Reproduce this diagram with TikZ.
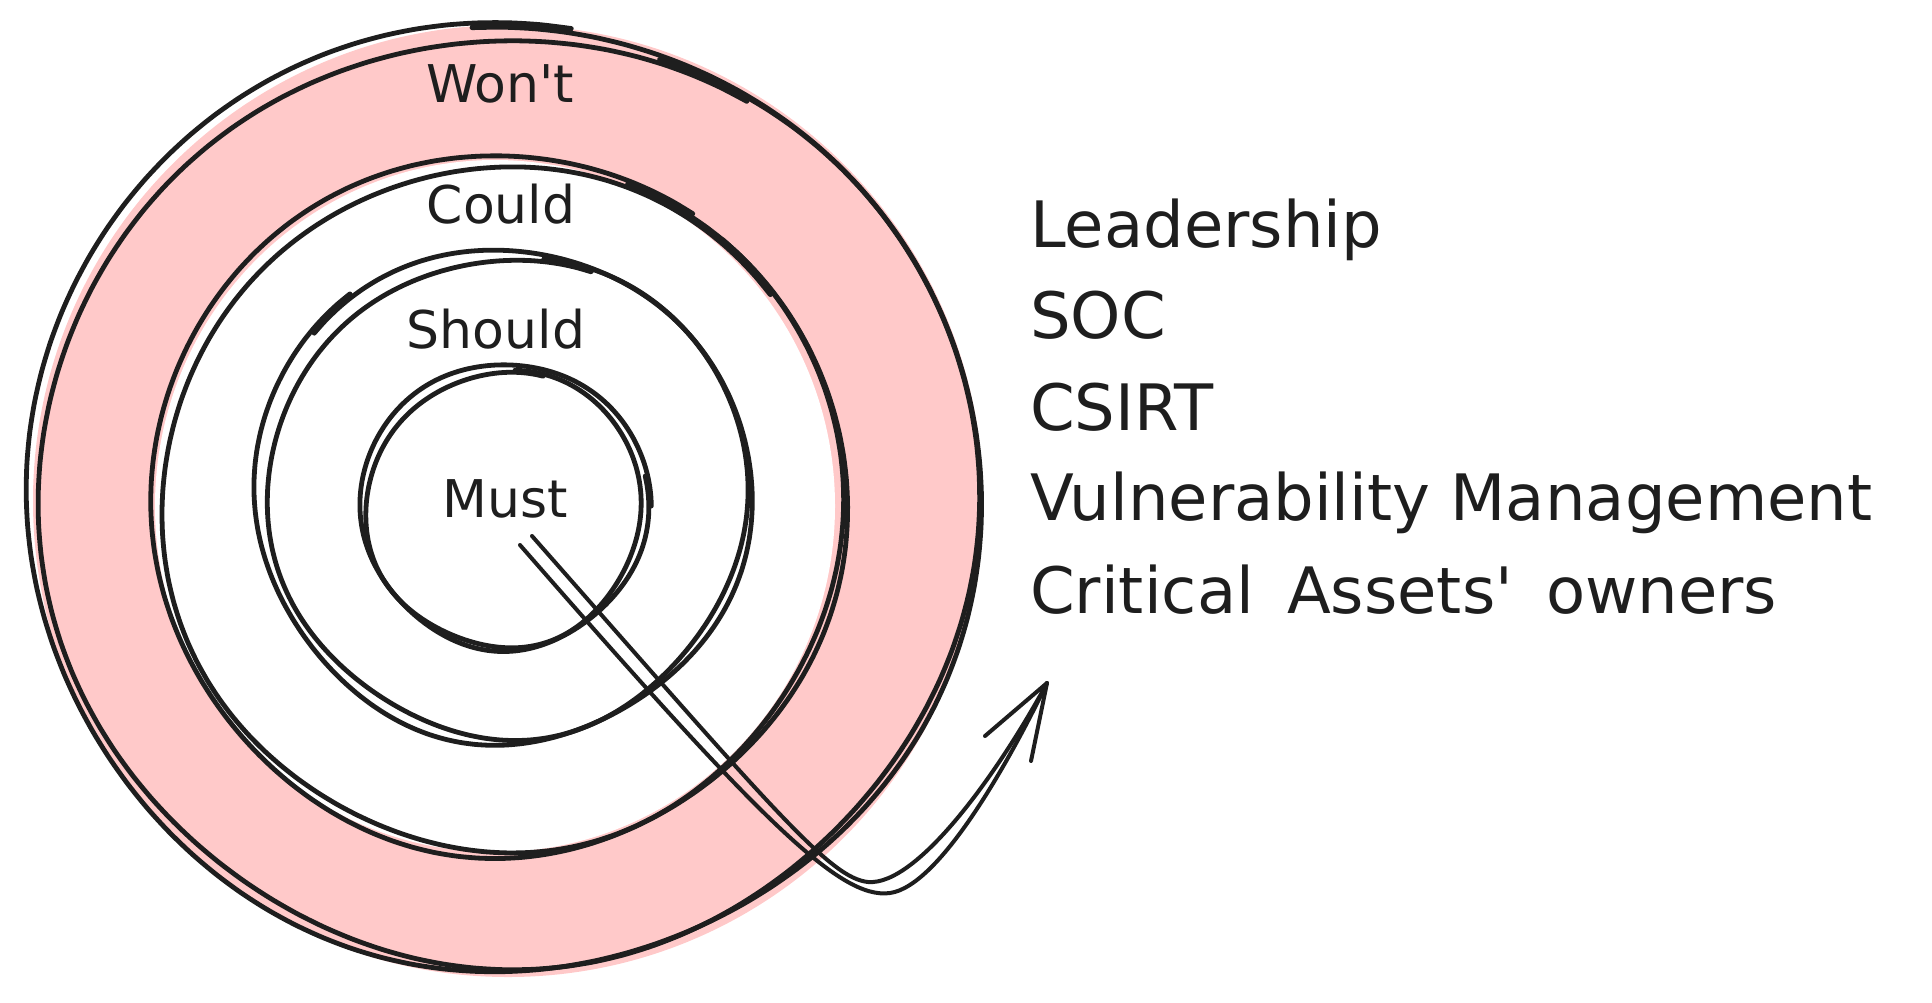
\documentclass[tikz,border=0pt]{standalone}
\usepackage{fontspec}
\setmainfont{DejaVu Sans}
\definecolor{ink}{HTML}{1E1E1E}
\definecolor{ringpink}{HTML}{FFC9C9}
% rough hand-drawn ellipse pass: cx cy rx ry start amp phase spiral
\newcommand\roughpass[8]{%
  \draw[inkline] plot[domain=#5:#5+372, samples=100, smooth, variable=\t]
   ({#1+#3*(1+#6*sin(2*\t+#7)+#8*(\t-#5)/372)*cos(\t)},
    {#2+#4*(1+#6*cos(3*\t+#7)+#8*(\t-#5)/372)*sin(\t)});}
\begin{document}
\begin{tikzpicture}[x=1pt,y=-1pt,
  inkline/.style={draw=ink, line width=4.8pt, line cap=round, line join=round},
  arrowline/.style={draw=ink, line width=4pt, line cap=round, line join=round},
  lbl/.style={font=\fontsize{52}{60}\selectfont, text=ink, anchor=base, inner sep=0pt},
  item/.style={font=\fontsize{64}{72}\selectfont, text=ink, anchor=base west, inner sep=0pt}]
\useasboundingbox (0,0) rectangle (1932,1002);
% fills
\fill[ringpink] (508,501) ellipse[x radius=475, y radius=476];
\fill[white] (495,506) ellipse[x radius=340, y radius=346];
% Won't ring (outer)
\roughpass{505}{497}{474}{471}{266}{0.008}{20}{0.010}
\roughpass{508}{500}{468}{467}{289}{0.010}{110}{-0.008}
% Could
\roughpass{500}{505}{344}{349}{292}{0.010}{60}{0.010}
\roughpass{502}{507}{340}{345}{310}{0.012}{150}{-0.010}
% Should
\roughpass{504}{494}{244}{246}{220}{0.018}{40}{0.015}
\roughpass{507}{496}{238}{242}{279}{0.020}{130}{-0.012}
% Must
\roughpass{505}{506}{141}{142}{348}{0.020}{80}{0.018}
\roughpass{503}{509}{138}{139}{275}{0.022}{170}{-0.015}
% labels
\node[lbl] (wont) at (500,102) {Won\textquotesingle t};
\node[lbl] (could) at (501,223) {Could};
\node[lbl] (should) at (496,348) {Should};
\node[lbl] (must) at (505,517) {Must};
% list
\node[item] (l1) at (1030,247) {Leadership};
\node[item] (l2) at (1030,338) {SOC};
\node[item] (l3) at (1030,430) {CSIRT};
\node[item] (l4) at (1030,520) {Vulnerability Management};
\node[item] (l5) at (1030,613) {Critical\hspace{0.2em} Assets\textquotesingle\hspace{0.2em} owners};
% arrow
\coordinate (arrS) at (520,545);
\coordinate (arrS2) at (532,536);
\coordinate (arrT) at (1047,683);
\coordinate (barbA) at (985,736);
\coordinate (barbB) at (1031,761);
\draw[arrowline] (arrS) .. controls (760,820) and (840,900) .. (890,893)
  .. controls (940,886) and (1010,760) .. (arrT);
\draw[arrowline] (arrS2) .. controls (775,812) and (830,878) .. (868,882)
  .. controls (918,886) and (1000,770) .. (arrT);
\draw[arrowline] (barbA) -- (arrT) -- (barbB);
\end{tikzpicture}
\end{document}
